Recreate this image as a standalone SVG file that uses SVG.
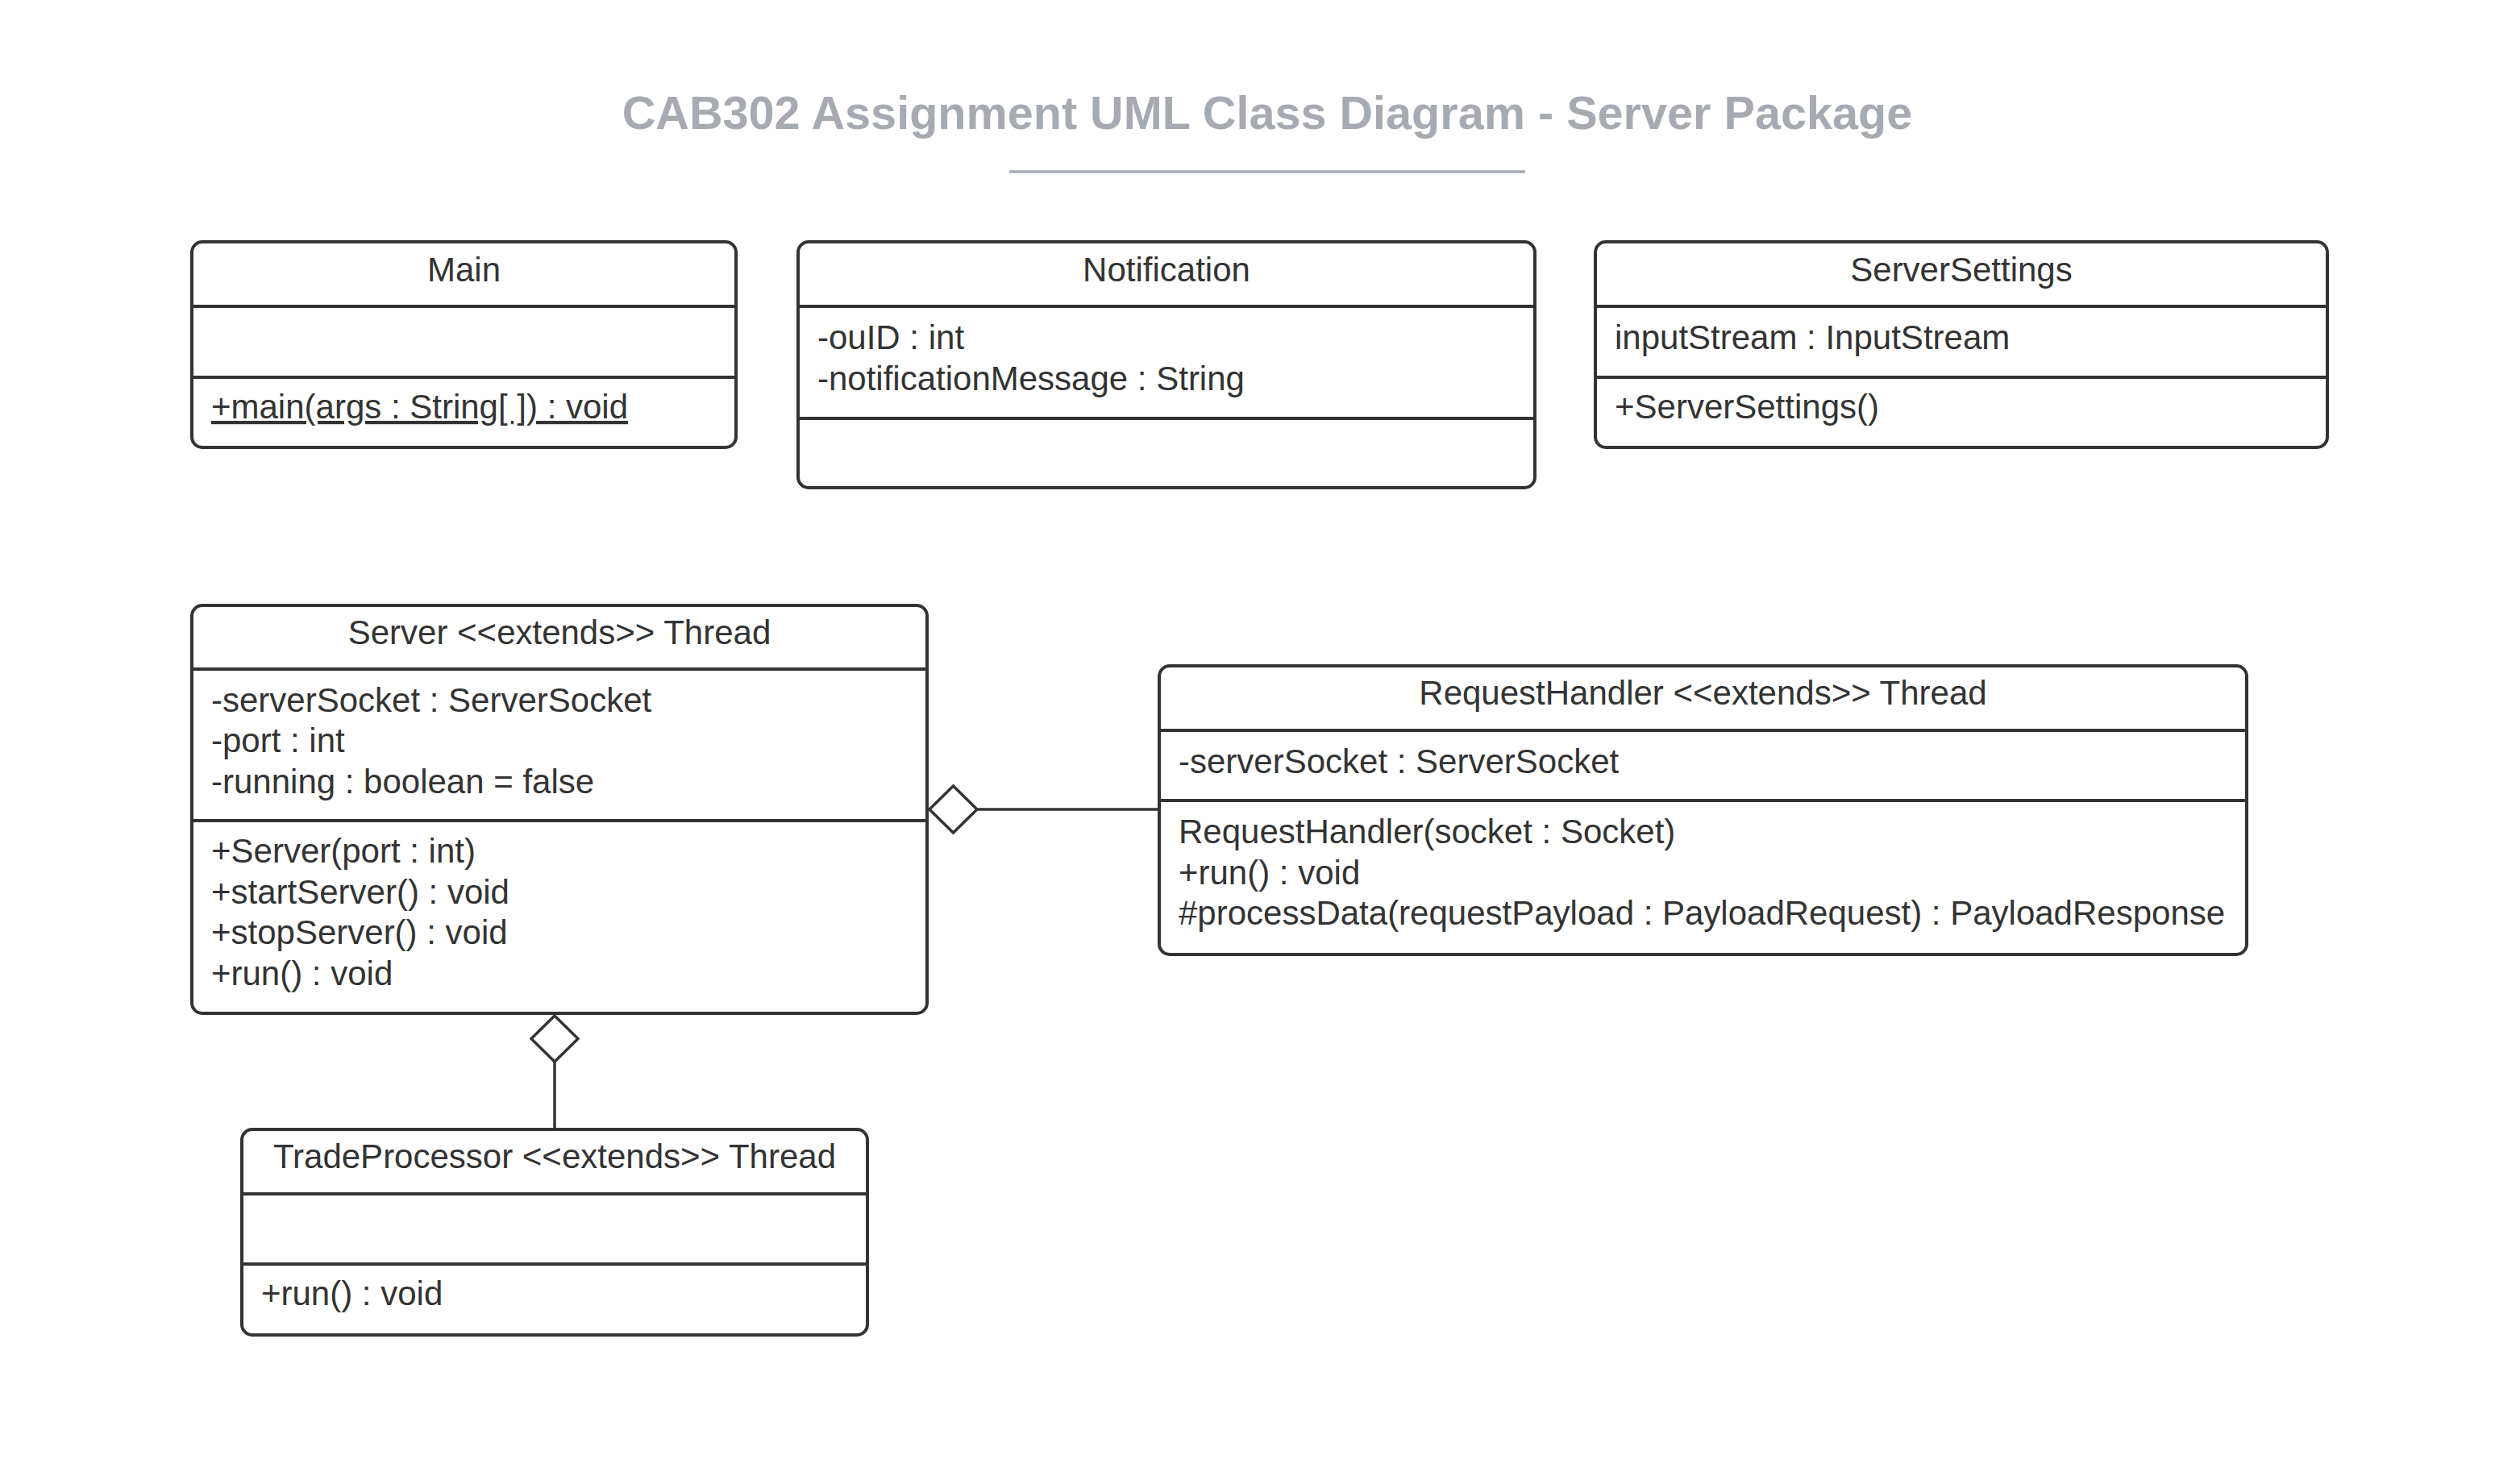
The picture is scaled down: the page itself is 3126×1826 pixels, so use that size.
<svg xmlns="http://www.w3.org/2000/svg" width="3126" height="1826" viewBox="0 0 3126 1826">
<style>
.box{fill:#ffffff;stroke:#333333;stroke-width:4}
.div{stroke:#333333;stroke-width:4}
.t{font-family:"Liberation Sans",Arial,sans-serif;font-size:42px;fill:#333333}
.c{text-anchor:middle}
.conn{stroke:#333333;stroke-width:3.5;fill:none}
.dia{fill:#ffffff;stroke:#333333;stroke-width:3.5;stroke-linejoin:miter}
</style>
<rect width="3126" height="1826" fill="#ffffff"/>
<g id="title">
<text x="1572" y="160" text-anchor="middle" font-family="'Liberation Sans',Arial,sans-serif" font-weight="bold" font-size="57.6" fill="#a6abb3">CAB302 Assignment UML Class Diagram - Server Package</text>
<line x1="1252" y1="213" x2="1892" y2="213" stroke="#a6abb3" stroke-width="3.5"/>
</g>
<g id="connectors">
<line class="conn" x1="1212" y1="1004" x2="1438" y2="1004"/>
<polygon class="dia" points="1153,1004 1182.5,975 1212,1004 1182.5,1033"/>
<line class="conn" x1="688" y1="1317" x2="688" y2="1401"/>
<polygon class="dia" points="688,1260 717,1288.5 688,1317 659,1288.5"/>
</g>
<g id="node-main">
<rect class="box" x="238" y="300" width="675" height="255" rx="13"/>
<line class="div" x1="238" y1="380" x2="913" y2="380"/>
<line class="div" x1="238" y1="468" x2="913" y2="468"/>
<text class="t c" x="575.5" y="349">Main</text>
<text class="t" x="262" y="519" text-decoration="underline">+main(args : String[ ]) : void</text>
</g>
<g id="node-notification">
<rect class="box" x="990" y="300" width="914" height="305" rx="13"/>
<line class="div" x1="990" y1="380" x2="1904" y2="380"/>
<line class="div" x1="990" y1="519" x2="1904" y2="519"/>
<text class="t c" x="1447" y="349">Notification</text>
<text class="t" x="1014" y="433">-ouID : int</text>
<text class="t" x="1014" y="484">-notificationMessage : String</text>
</g>
<g id="node-serversettings">
<rect class="box" x="1979" y="300" width="908" height="255" rx="13"/>
<line class="div" x1="1979" y1="380" x2="2887" y2="380"/>
<line class="div" x1="1979" y1="468" x2="2887" y2="468"/>
<text class="t c" x="2433" y="349">ServerSettings</text>
<text class="t" x="2003" y="433">inputStream : InputStream</text>
<text class="t" x="2003" y="519">+ServerSettings()</text>
</g>
<g id="node-server">
<rect class="box" x="238" y="751" width="912" height="506" rx="13"/>
<line class="div" x1="238" y1="830" x2="1150" y2="830"/>
<line class="div" x1="238" y1="1018" x2="1150" y2="1018"/>
<text class="t c" x="694" y="799">Server &lt;&lt;extends&gt;&gt; Thread</text>
<text class="t" x="262" y="883">-serverSocket : ServerSocket</text>
<text class="t" x="262" y="933">-port : int</text>
<text class="t" x="262" y="984">-running : boolean = false</text>
<text class="t" x="262" y="1070">+Server(port : int)</text>
<text class="t" x="262" y="1121">+startServer() : void</text>
<text class="t" x="262" y="1171">+stopServer() : void</text>
<text class="t" x="262" y="1222">+run() : void</text>
</g>
<g id="node-requesthandler">
<rect class="box" x="1438" y="826" width="1349" height="358" rx="13"/>
<line class="div" x1="1438" y1="906" x2="2787" y2="906"/>
<line class="div" x1="1438" y1="993" x2="2787" y2="993"/>
<text class="t c" x="2112.5" y="874">RequestHandler &lt;&lt;extends&gt;&gt; Thread</text>
<text class="t" x="1462" y="959">-serverSocket : ServerSocket</text>
<text class="t" x="1462" y="1046">RequestHandler(socket : Socket)</text>
<text class="t" x="1462" y="1097">+run() : void</text>
<text class="t" x="1462" y="1147">#processData(requestPayload : PayloadRequest) : PayloadResponse</text>
</g>
<g id="node-tradeprocessor">
<rect class="box" x="300" y="1401" width="776" height="255" rx="13"/>
<line class="div" x1="300" y1="1481" x2="1076" y2="1481"/>
<line class="div" x1="300" y1="1568" x2="1076" y2="1568"/>
<text class="t c" x="688" y="1449">TradeProcessor &lt;&lt;extends&gt;&gt; Thread</text>
<text class="t" x="324" y="1619">+run() : void</text>
</g>
</svg>
